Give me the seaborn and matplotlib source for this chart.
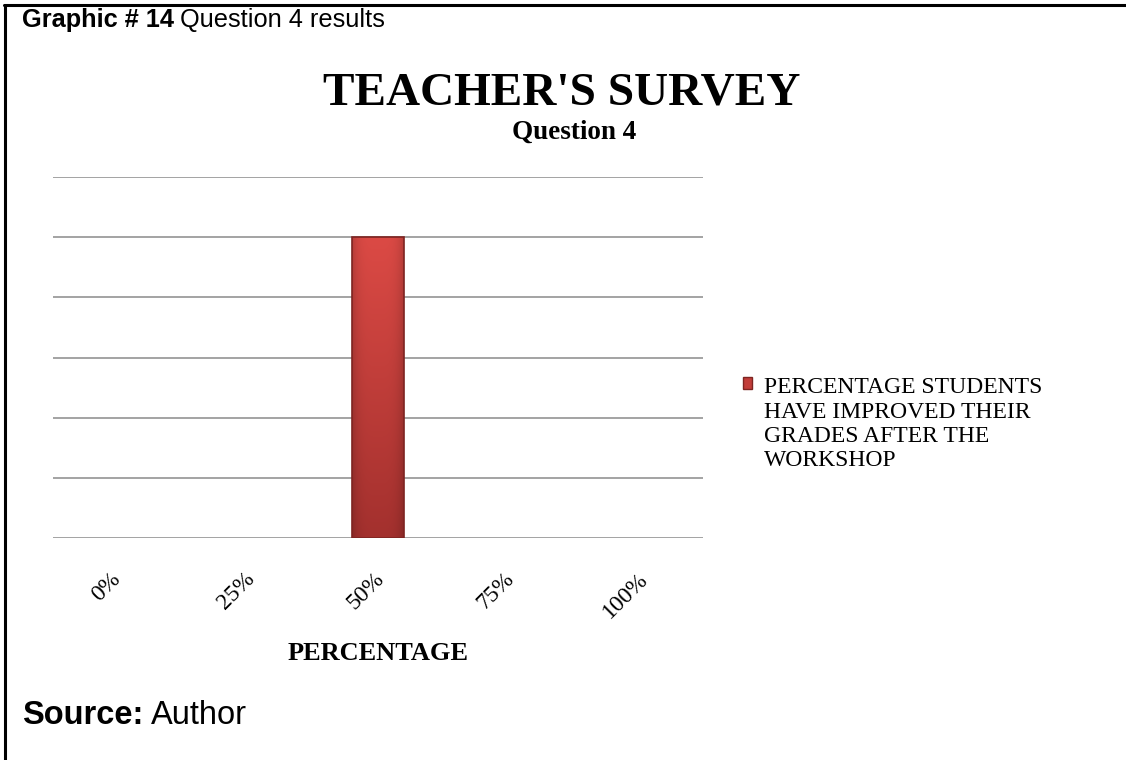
import matplotlib
matplotlib.use('Agg')
import numpy as np
import matplotlib.pyplot as plt
import seaborn as sns
from matplotlib.lines import Line2D
from matplotlib.patches import Patch
from matplotlib.transforms import ScaledTranslation

# data
categories = ['0%', '25%', '50%', '75%', '100%']
values = [0, 0, 5, 0, 0]
series_label = 'PERCENTAGE STUDENTS\nHAVE IMPROVED THEIR\nGRADES AFTER THE\nWORKSHOP'
y_max = 6

sns.set_style('white')
plt.rcParams['font.family'] = ['Liberation Serif', 'DejaVu Serif']
plt.rcParams['text.color'] = 'black'
plt.rcParams['xtick.color'] = 'black'
plt.rcParams['axes.labelcolor'] = 'black'

fig = plt.figure(figsize=(11.26, 7.6), dpi=100)
ax = fig.add_axes([0.047, 0.292, 0.577, 0.475])

bar_color = '#c23d39'
edge_color = '#7e2421'
sns.barplot(x=categories, y=values, color=bar_color, width=0.4,
            linewidth=0, saturation=1, ax=ax)

# shaded fill for the non-empty bars
for p in ax.patches:
    h = p.get_height()
    if h <= 0:
        p.set_visible(False)
        continue
    x0, y0, w = p.get_x(), p.get_y(), p.get_width()
    t = np.linspace(0, 1, 120)[:, None]
    top = np.array([0.86, 0.29, 0.27])
    bot = np.array([0.64, 0.19, 0.18])
    col = top * (1 - t[..., None]) + bot * t[..., None]
    s = np.linspace(-1, 1, 40)
    side = 1 - 0.16 * np.abs(s) ** 4
    rgb = np.clip(col * side[None, :, None], 0, 1)
    im = ax.imshow(rgb, extent=[x0, x0 + w, y0, y0 + h], aspect='auto',
                   origin='upper', zorder=p.get_zorder() - 0.01, interpolation='bilinear')
    im.set_clip_path(p)
    p.set_facecolor('none')
    p.set_edgecolor(edge_color)
    p.set_linewidth(1.2)

ax.set_xlim(-0.5, len(categories) - 0.5)
ax.set_ylim(0, y_max)
ax.set_yticks(range(0, y_max + 1))
ax.set_yticklabels([])
ax.tick_params(axis='y', length=0)
ax.grid(axis='y', color='#a3a3a3', linewidth=1.4)
ax.set_axisbelow(True)
for sp in ax.spines.values():
    sp.set_visible(False)

ax.tick_params(axis='x', length=0, pad=22)
ax.set_xticks(range(len(categories)))
ax.set_xticklabels(categories, rotation=45, ha='center', fontsize=17)
shift = ScaledTranslation(-12 / 100, 0, fig.dpi_scale_trans)
for lbl in ax.get_xticklabels():
    lbl.set_transform(lbl.get_transform() + shift)
ax.set_xlabel('PERCENTAGE', fontsize=19, fontweight='bold')
ax.xaxis.set_label_coords(0.5, -0.3186)
ax.xaxis.label.set_va('center')

# legend
handle = Patch(facecolor=bar_color, edgecolor=edge_color)
leg = fig.legend(handles=[handle], labels=[series_label], loc='upper left',
                 bbox_to_anchor=(0.649, 0.519), frameon=False, fontsize=17,
                 handlelength=0.4, handleheight=0.4, handletextpad=0.5,
                 borderpad=0)
for hp in leg._legend_handle_box.get_children():
    for row in hp.get_children():
        row.align = 'top'

# titles
fig.text(0.499, 0.877, "TEACHER'S SURVEY", ha='center', va='center',
         fontsize=34, fontweight='bold')
fig.text(0.51, 0.826, 'Question 4', ha='center', va='center',
         fontsize=19.5, fontweight='bold')

# header / footer
sans = ['Liberation Sans', 'DejaVu Sans']
t1 = fig.text(0.0195, 0.974, 'Graphic # 14', ha='left', va='center',
              fontsize=18.3, fontweight='bold', family=sans)
t2 = fig.text(0.0195, 0.058, 'Source:', ha='left', va='center',
              fontsize=23.5, fontweight='bold', family=sans)
fig.canvas.draw()
r = fig.canvas.get_renderer()
bb1 = t1.get_window_extent(renderer=r).transformed(fig.transFigure.inverted())
fig.text(bb1.x1 + 0.005, 0.974, 'Question 4 results', ha='left', va='center',
         fontsize=18.3, family=sans)
bb2 = t2.get_window_extent(renderer=r).transformed(fig.transFigure.inverted())
fig.text(bb2.x1 + 0.0065, 0.058, 'Author', ha='left', va='center',
         fontsize=23.5, family=sans)

# frame
fig.add_artist(Line2D([0.0045, 0.0045], [0, 0.9935], color='black', lw=2.2,
                      transform=fig.transFigure))
fig.add_artist(Line2D([0.0035, 1], [0.9935, 0.9935], color='black', lw=2.2,
                      transform=fig.transFigure))

fig.savefig('out.png', dpi=100, facecolor='white')
